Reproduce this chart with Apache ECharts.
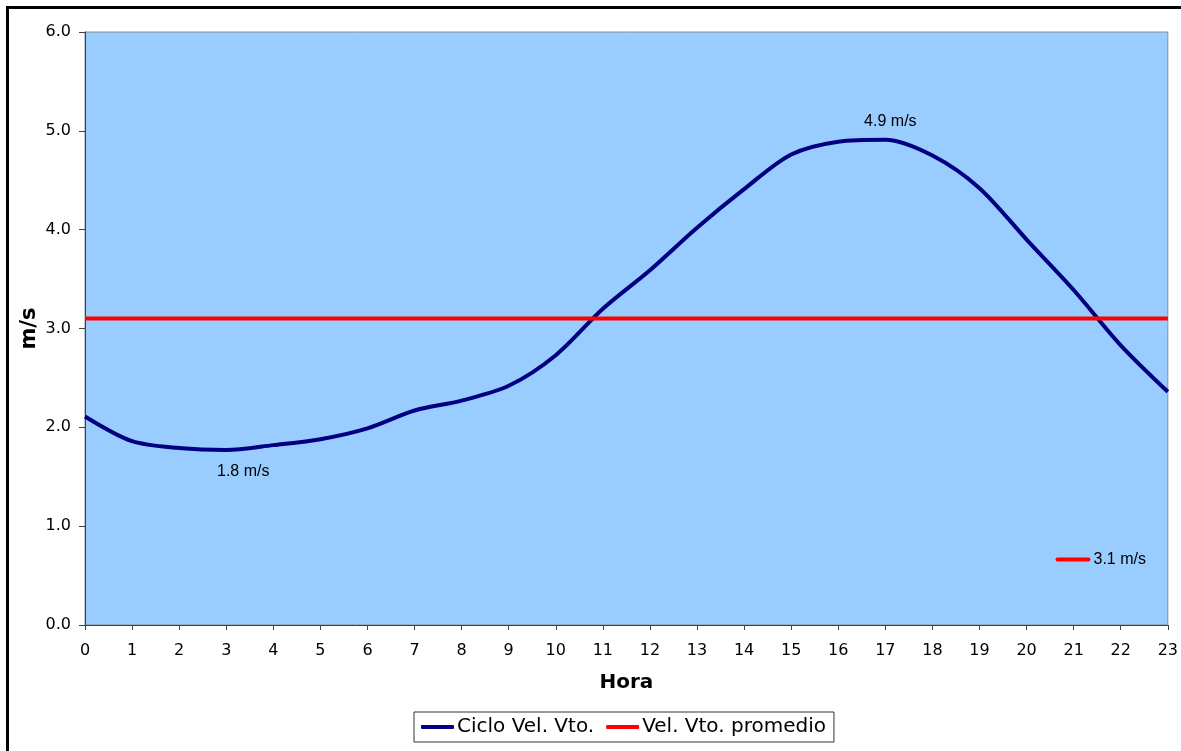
<!DOCTYPE html>
<html>
<head>
<meta charset="utf-8">
<script src="https://cdn.jsdelivr.net/npm/echarts@6/dist/echarts.min.js"></script>
<style>
  html, body { margin: 0; padding: 0; background: #ffffff; }
  #chart { width: 1181px; height: 751px; }
</style>
</head>
<body>
<div id="chart"></div>
<script>
// Hourly wind-speed cycle (m/s)
const hours = ['0','1','2','3','4','5','6','7','8','9','10','11','12','13','14','15','16','17','18','19','20','21','22','23'];
const cycleSpeed = [2.11, 1.86, 1.79, 1.77, 1.82, 1.88, 1.99, 2.17, 2.27, 2.42, 2.73, 3.20,
                    3.59, 4.02, 4.41, 4.76, 4.89, 4.91, 4.75, 4.42, 3.90, 3.39, 2.83, 2.36];
const averageSpeed = 3.1;
const yTicks = [0, 1, 2, 3, 4, 5, 6];

// Hours whose values get a text label (minimum and maximum)
const minIdx = 3;
const maxIdx = 17;
// Hour carrying the legend-key label of the average line
const avgLabelIdx = 22;

const labelFont = { fontFamily: 'Liberation Sans, Arial, sans-serif', fontSize: 16, color: '#000000' };
const verdana = 'DejaVu Sans, Verdana, sans-serif';

const cycleData = cycleSpeed.map((v, i) => {
  if (i === minIdx) {
    return { value: v, label: { show: true, position: 'bottom', offset: [17, 9], ...labelFont,
      formatter: p => p.value.toFixed(1) + ' m/s' } };
  }
  if (i === maxIdx) {
    return { value: v, label: { show: true, position: 'top', offset: [5, -5], ...labelFont,
      formatter: p => p.value.toFixed(1) + ' m/s' } };
  }
  return v;
});

const avgData = hours.map((h, i) => {
  if (i === avgLabelIdx) {
    return { value: averageSpeed, label: {
      show: true, position: 'bottom', offset: [-20, 228],
      formatter: p => '{key|}{txt|' + p.value.toFixed(1) + ' m/s}',
      rich: {
        key: { width: 35, height: 4, backgroundColor: '#FF0000', borderRadius: 2 },
        txt: { ...labelFont, padding: [0, 0, 0, 3] }
      }
    } };
  }
  return averageSpeed;
});

const chart = echarts.init(document.getElementById('chart'), null, { renderer: 'canvas' });

chart.setOption({
  animation: false,
  backgroundColor: '#ffffff',
  textStyle: { fontFamily: verdana },
  graphic: [{
    type: 'rect',
    left: 5, top: 5, z: 100, silent: true,
    shape: { width: 1300, height: 900 },
    style: { fill: 'none', stroke: '#000000', lineWidth: 3 }
  }],
  grid: {
    left: 85, right: 13, top: 32, bottom: 126,
    show: true, backgroundColor: '#99CCFF', borderColor: '#8c8c8c', borderWidth: 1
  },
  legend: {
    top: 712, left: 414,
    padding: [5, 8, 5, 7],
    backgroundColor: '#ffffff',
    borderColor: '#333333', borderWidth: 1, borderRadius: 0,
    itemWidth: 33, itemHeight: 4, itemGap: 12,
    icon: 'roundRect',
    textStyle: { fontFamily: verdana, fontSize: 20, color: '#000000', padding: [0, 0, 0, -2] },
    data: ['Ciclo Vel. Vto.', 'Vel. Vto. promedio']
  },
  xAxis: {
    type: 'category',
    data: hours,
    boundaryGap: false,
    name: 'Hora',
    nameLocation: 'middle',
    nameGap: 48,
    nameTextStyle: { fontFamily: verdana, fontSize: 20, fontWeight: 'bold', color: '#000000' },
    axisLine: { lineStyle: { color: '#404040', width: 1 } },
    axisTick: { show: true, length: 5, alignWithLabel: true, lineStyle: { color: '#404040' } },
    axisLabel: { fontFamily: verdana, fontSize: 16, color: '#000000', margin: 18, interval: 0 },
    splitLine: { show: false }
  },
  yAxis: {
    type: 'value',
    min: yTicks[0], max: yTicks[yTicks.length - 1], interval: 1,
    name: 'm/s',
    nameLocation: 'middle',
    nameGap: 45,
    nameMoveOverlap: false,
    nameRotate: 90,
    nameTextStyle: { fontFamily: verdana, fontSize: 21, fontWeight: 'bold', color: '#000000' },
    axisLine: { show: true, lineStyle: { color: '#404040', width: 1 } },
    axisTick: { show: true, length: 6, lineStyle: { color: '#404040' } },
    axisLabel: { fontFamily: verdana, fontSize: 16, color: '#000000', margin: 14, formatter: v => v.toFixed(1) },
    splitLine: { show: false }
  },
  series: [
    {
      name: 'Ciclo Vel. Vto.',
      type: 'line',
      data: cycleData,
      smooth: 0.3,
      symbol: 'circle',
      symbolSize: 0,
      showSymbol: true,
      itemStyle: { color: '#000080' },
      lineStyle: { color: '#000080', width: 4 },
      z: 3
    },
    {
      name: 'Vel. Vto. promedio',
      type: 'line',
      data: avgData,
      symbol: 'circle',
      symbolSize: 0,
      showSymbol: true,
      itemStyle: { color: '#FF0000' },
      lineStyle: { color: '#FF0000', width: 4 },
      z: 4
    }
  ]
});
</script>
</body>
</html>
